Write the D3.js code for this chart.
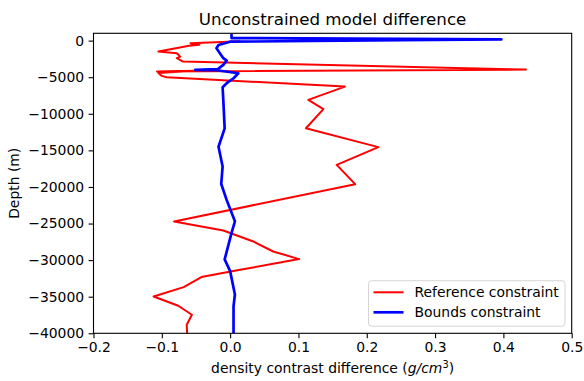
<!DOCTYPE html>
<html>
<head>
<meta charset="utf-8">
<script src="https://cdn.jsdelivr.net/npm/d3@7"></script>
<style>
  body { margin: 0; background: #fff; }
  svg { display: block; font-family: "DejaVu Sans", sans-serif; }
</style>
</head>
<body>
<svg id="drawing_region"></svg>
<script>
// Reference constraint (red)
const refValue = [0.015, -0.058, -0.045, -0.06, -0.105, -0.078, -0.073, -0.078, -0.069, 0.433,
    -0.107, -0.05, -0.105, -0.100, -0.093, 0.168, 0.1145, 0.1365, 0.111, 0.217,
    0.156, 0.183, -0.082, -0.010, 0.034, 0.063, 0.101, 0.0145, -0.042, -0.068,
    -0.112, -0.076, -0.056, -0.0635, -0.063];
const refDepth = [-100, -350, -550, -700, -1500, -1720, -2190, -2400, -2870, -3960,
    -4230, -4130, -4420, -4820, -5000, -6280, -8100, -9370, -11970, -14560,
    -16980, -19620, -24720, -25950, -27450, -28820, -29860, -31320, -32320, -33690,
    -34970, -36240, -37470, -38840, -40000];

// Bounds constraint (blue)
const bndValue = [0.002, 0.002, 0.397, 0.25, 0.0, -0.017, -0.020, -0.015, -0.010,
    -0.005, -0.010, -0.018, -0.051, -0.02, 0.012, 0.005, -0.005, -0.011, -0.010,
    -0.008, -0.017, -0.011, -0.013, -0.005, 0.007, 0.002, -0.008, 0.0, 0.007,
    0.005, 0.005];
const bndDepth = [900, 350, 170, 80, -150, -590, -1040, -1720, -2400,
    -2730, -3320, -3900, -4000, -4050, -4460, -5140, -5820, -6370, -8100,
    -12000, -14500, -17200, -19600, -21800, -24700, -26300, -29900, -31500, -34700,
    -36300, -40000];

const xTicks = [-0.2, -0.1, 0.0, 0.1, 0.2, 0.3, 0.4, 0.5];
const yTicks = [0, -5000, -10000, -15000, -20000, -25000, -30000, -35000, -40000];

const seriesNames = ['Reference constraint', 'Bounds constraint'];

const config = {
    width: 584,
    height: 381,
    margin: { top: 33.3, right: 12.3, bottom: 47.7, left: 93.5 }
};

const svg = d3.select('#drawing_region')
    .attr('width', config.width)
    .attr('height', config.height);

const inner_width = config.width - config.margin.left - config.margin.right;
const inner_height = config.height - config.margin.top - config.margin.bottom;

const chart = svg.append('g')
    .attr('transform', `translate(${config.margin.left}, ${config.margin.top})`);

const xscale = d3.scaleLinear().domain([-0.2, 0.5]).range([0, inner_width]);
const yscale = d3.scaleLinear().domain([1000, -40000]).range([0, inner_height]);

const line = d3.line()
    .x(d => xscale(d[0]))
    .y(d => yscale(d[1]));

const refData = refValue.map((v, i) => [v, refDepth[i]]);
const bndData = bndValue.map((v, i) => [v, bndDepth[i]]);

chart.append('defs').append('clipPath').attr('id', 'clip')
    .append('rect').attr('width', inner_width).attr('height', inner_height);

const lines = chart.append('g').attr('clip-path', 'url(#clip)');

lines.append('path')
    .datum(refData)
    .attr('d', line)
    .attr('fill', 'none')
    .attr('stroke', '#ff0000')
    .attr('stroke-width', 2)
    .attr('stroke-linejoin', 'round');

lines.append('path')
    .datum(bndData)
    .attr('d', line)
    .attr('fill', 'none')
    .attr('stroke', '#0000ff')
    .attr('stroke-width', 2.7)
    .attr('stroke-linejoin', 'round');

// axes
const xaxis = d3.axisBottom(xscale)
    .tickValues(xTicks)
    .tickFormat(d3.format('.1f'))
    .tickSize(4.9)
    .tickPadding(3.5);

const yaxis = d3.axisLeft(yscale)
    .tickValues(yTicks)
    .tickFormat(d3.format('d'))
    .tickSize(4.9)
    .tickPadding(4.5);

const xaxis_group = chart.append('g')
    .attr('transform', `translate(0, ${inner_height})`)
    .call(xaxis);

const yaxis_group = chart.append('g').call(yaxis);

[xaxis_group, yaxis_group].forEach(g => {
    g.select('.domain').remove();
    g.selectAll('line').attr('stroke', '#000').attr('stroke-width', 1.1);
    g.selectAll('text')
        .attr('fill', '#000')
        .style('font-family', '"DejaVu Sans", sans-serif')
        .style('font-size', '13.9px');
});

// frame
chart.append('rect')
    .attr('width', inner_width)
    .attr('height', inner_height)
    .attr('fill', 'none')
    .attr('stroke', '#000')
    .attr('stroke-width', 1.1);

// title
svg.append('text')
    .attr('x', config.margin.left + inner_width / 2)
    .attr('y', 25)
    .attr('text-anchor', 'middle')
    .style('font-size', '16.7px')
    .text('Unconstrained model difference');

// x label
const xl = svg.append('text')
    .attr('x', config.margin.left + inner_width / 2)
    .attr('y', 373)
    .attr('text-anchor', 'middle')
    .style('font-size', '13.9px');
xl.append('tspan').text('density contrast difference (');
xl.append('tspan').attr('font-style', 'italic').text('g/cm');
xl.append('tspan').attr('dy', -5).style('font-size', '9.8px').text('3');
xl.append('tspan').attr('dy', 5).text(')');

// y label
svg.append('text')
    .attr('transform', `translate(19, ${config.margin.top + inner_height / 2}) rotate(-90)`)
    .attr('text-anchor', 'middle')
    .style('font-size', '13.9px')
    .text('Depth (m)');

// legend
const legend = svg.append('g').attr('transform', 'translate(368.5, 280.7)');
legend.append('rect')
    .attr('width', 196.5)
    .attr('height', 45.5)
    .attr('rx', 3)
    .attr('fill', 'rgba(255,255,255,0.8)')
    .attr('stroke', '#d5d5d5')
    .attr('stroke-width', 1);

const legendColors = ['#ff0000', '#0000ff'];
const legendWidths = [2, 2.7];
seriesNames.forEach((name, i) => {
    const y = 11.6 + i * 20;
    legend.append('line')
        .attr('x1', 5).attr('x2', 35)
        .attr('y1', y).attr('y2', y)
        .attr('stroke', legendColors[i])
        .attr('stroke-width', legendWidths[i]);
    legend.append('text')
        .attr('x', 46)
        .attr('y', y + 5)
        .style('font-size', '13.9px')
        .text(name);
});
</script>
</body>
</html>
